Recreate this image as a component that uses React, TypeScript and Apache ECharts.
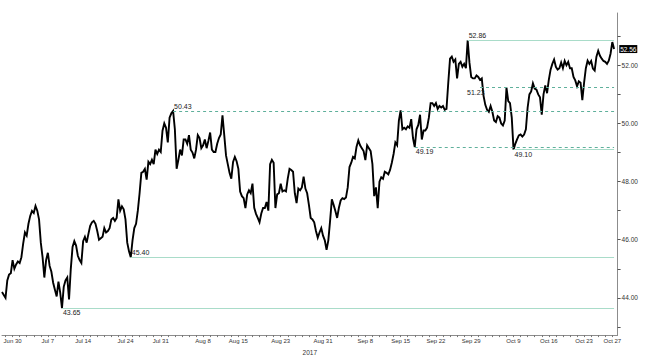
import React, { useEffect, useRef } from "react";
import * as echarts from "echarts";

// ---- data -------------------------------------------------------------
const START_DATE = [2017, 5, 29]; // Jun 29 2017 (month is 0-based)
const END_DATE = [2017, 9, 27]; // Oct 27 2017
const SAMPLES_PER_DAY = 4;

// intraday price readings, 4 per trading day (Jun 29 .. Oct 27)
const priceByDay: number[][] = [
  [44.2, 44.1, 44.0, 44.6],
  [44.8, 44.85, 45.3, 45.0],
  [45.15, 45.25, 45.2, 45.4],
  [45.87, 46.25, 46.14, 46.55],
  [46.82, 46.99, 46.92, 47.16],
  [47.0, 46.7, 45.9, 45.4],
  [44.7, 45.3, 45.55, 45.1],
  [44.9, 44.52, 44.28, 44.05],
  [44.56, 44.18, 43.65, 44.38],
  [44.6, 44.7, 43.95, 45.0],
  [45.75, 45.95, 45.8, 45.45],
  [45.3, 45.2, 45.95, 46.1],
  [45.9, 46.2, 46.48, 46.6],
  [46.65, 46.55, 46.3, 46.0],
  [46.05, 46.1, 46.4, 46.25],
  [46.3, 46.4, 46.7, 46.75],
  [46.65, 46.75, 47.39, 47.0],
  [47.15, 47.05, 46.7, 45.9],
  [45.6, 45.4, 45.98, 46.4],
  [46.55, 47.0, 47.6, 48.3],
  [48.34, 48.44, 48.07, 48.68],
  [48.6, 48.75, 48.6, 49.1],
  [48.95, 49.1, 49.02, 49.75],
  [50.0, 49.85, 49.35, 50.2],
  [50.35, 50.43, 49.8, 48.44],
  [48.75, 49.1, 48.9, 49.45],
  [49.45, 49.3, 49.6, 49.1],
  [49.0, 48.8, 49.1, 49.6],
  [49.5, 49.15, 49.25, 49.45],
  [49.15, 49.4, 49.69, 49.1],
  [49.02, 49.02, 49.3, 49.5],
  [49.62, 50.28, 49.6, 48.9],
  [48.6, 48.3, 48.1, 48.68],
  [48.85, 48.7, 48.44, 47.66],
  [47.5, 47.43, 47.09, 47.56],
  [47.7, 47.6, 47.93, 47.1],
  [46.89, 46.75, 46.6, 46.9],
  [47.09, 47.09, 47.3, 47.0],
  [48.6, 48.75, 48.65, 47.09],
  [47.56, 47.6, 47.93, 47.66],
  [47.7, 47.66, 48.1, 48.44],
  [48.4, 48.34, 47.6, 47.26],
  [47.76, 47.7, 47.8, 48.17],
  [47.76, 47.6, 47.2, 46.75],
  [46.7, 46.6, 46.3, 46.07],
  [46.25, 46.4, 46.14, 45.98],
  [45.65, 45.98, 46.65, 47.39],
  [47.2, 46.99, 46.75, 47.1],
  [47.35, 47.43, 47.4, 47.45],
  [47.8, 48.5, 48.65, 48.85],
  [48.8, 49.2, 49.42, 49.25],
  [49.15, 49.05, 48.74, 49.25],
  [49.15, 49.05, 48.6, 47.5],
  [47.8, 47.09, 48.0, 48.15],
  [48.1, 48.34, 48.3, 48.25],
  [48.4, 48.65, 48.95, 49.35],
  [49.25, 50.1, 50.45, 49.8],
  [49.85, 49.8, 49.9, 49.85],
  [50.15, 49.5, 49.19, 49.8],
  [49.95, 50.3, 49.45, 49.76],
  [49.76, 49.86, 50.2, 50.7],
  [50.7, 50.6, 50.7, 50.5],
  [50.6, 50.55, 50.6, 50.47],
  [50.5, 51.4, 52.23, 52.3],
  [52.12, 52.2, 51.55, 52.05],
  [52.12, 51.95, 52.05, 51.9],
  [52.86, 52.1, 51.6, 51.55],
  [51.55, 51.65, 51.6, 51.5],
  [51.55, 50.95, 50.64, 50.47],
  [50.4, 50.6, 50.4, 50.1],
  [50.05, 50.25, 50.2, 50.0],
  [49.93, 50.1, 51.23, 50.77],
  [50.7, 50.2, 49.1, 49.3],
  [49.45, 49.59, 49.62, 49.55],
  [49.62, 49.8, 50.55, 51.0],
  [51.1, 51.38, 51.2, 51.16],
  [51.0, 50.9, 50.3, 51.0],
  [51.31, 51.04, 51.5, 51.85],
  [52.05, 52.2, 51.95, 51.85],
  [51.9, 52.1, 51.9, 52.15],
  [52.0, 52.12, 51.9, 51.9],
  [51.6, 51.48, 51.28, 51.45],
  [51.4, 50.8, 51.4, 51.9],
  [52.16, 52.05, 52.15, 51.89],
  [51.82, 52.3, 52.5, 52.33],
  [52.23, 52.15, 52.12, 52.05],
  [52.16, 52.4, 52.8, 52.56],
];

const tickLabelDays = [
  "Jun 30", "Jul 7", "Jul 14", "Jul 24", "Jul 31", "Aug 8", "Aug 15", "Aug 23",
  "Aug 31", "Sep 8", "Sep 15", "Sep 22", "Sep 29", "Oct 9", "Oct 16", "Oct 23", "Oct 27",
];
const yearLabel = "2017";

const yTickValues = [43, 44, 45, 46, 47, 48, 49, 50, 51, 52, 53];
const yLabelValues = [44, 46, 48, 50, 52];

const levelValues = [52.86, 51.23, 50.43, 49.19, 49.1, 45.4, 43.65];
const levelStartIndex = [264, 271, 97, 234, 290, 73, 34];
const levelDashed = [false, true, true, true, false, false, false];
const levelLabelBelow = [false, true, false, true, true, false, true];
const levelLabelShift = [0, -14, 0, 0, 0, 0, 0];

const lastPrice = 52.56;

// ---- helpers ----------------------------------------------------------
const MONTHS = ["Jan", "Feb", "Mar", "Apr", "May", "Jun", "Jul", "Aug", "Sep", "Oct", "Nov", "Dec"];

function tradingDays(): string[] {
  const out: string[] = [];
  const d = new Date(Date.UTC(START_DATE[0], START_DATE[1], START_DATE[2]));
  const end = new Date(Date.UTC(END_DATE[0], END_DATE[1], END_DATE[2]));
  while (d.getTime() <= end.getTime()) {
    const wd = d.getUTCDay();
    if (wd !== 0 && wd !== 6) out.push(`${MONTHS[d.getUTCMonth()]} ${d.getUTCDate()}`);
    d.setUTCDate(d.getUTCDate() + 1);
  }
  return out;
}

const FONT = "'Liberation Sans', Arial, sans-serif";

export default function App() {
  const ref = useRef<HTMLDivElement>(null);

  useEffect(() => {
    if (!ref.current) return;
    const chart = echarts.init(ref.current, undefined, { renderer: "svg" });

    const days = tradingDays();
    const categories: string[] = [];
    days.forEach((day) => {
      for (let s = 0; s < SAMPLES_PER_DAY; s++) categories.push(`${day}#${s}`);
    });
    categories.push("#pad0", "#pad1");
    const values = priceByDay.flat();
    const lastIdx = values.length - 1;

    const markLineData = levelValues.map((v, i) => {
      const dashed = levelDashed[i];
      const below = levelLabelBelow[i];
      return [
        {
          coord: [levelStartIndex[i], v],
          lineStyle: {
            color: dashed ? "#5fb09b" : "#a9dcc9",
            type: dashed ? [3, 3] : "solid",
            width: 1,
          },
          label: {
            show: true,
            position: below ? "insideStartBottom" : "insideStartTop",
            formatter: v.toFixed(2),
            distance: 1,
            offset: [levelLabelShift[i], 0],
            fontSize: 7,
            fontFamily: FONT,
            color: "#222",
          },
        },
        { coord: [lastIdx, v] },
      ];
    });

    chart.setOption({
      animation: false,
      backgroundColor: "#ffffff",
      grid: { left: 2, right: 33.4, top: 13, bottom: 20, containLabel: false },
      xAxis: {
        type: "category",
        data: categories,
        boundaryGap: false,
        axisLine: { show: true, lineStyle: { color: "#8c8c8c", width: 1 } },
        axisTick: {
          show: true,
          interval: (i: number) => i % SAMPLES_PER_DAY === 2 && i < values.length,
          length: 2,
          lineStyle: { color: "#777" },
        },
        axisLabel: {
          interval: (i: number, v: string) =>
            i % SAMPLES_PER_DAY === 2 && tickLabelDays.includes(v.split("#")[0]),
          formatter: (v: string) => v.split("#")[0],
          fontSize: 6,
          fontFamily: FONT,
          color: "#333",
          margin: 3,
        },
        splitLine: { show: false },
        name: yearLabel,
        nameLocation: "middle",
        nameGap: 11,
        nameTextStyle: { fontSize: 6.5, fontFamily: FONT, color: "#333" },
      },
      yAxis: {
        type: "value",
        position: "right",
        min: 42.72,
        max: 53.8,
        splitLine: { show: false },
        axisLine: { show: true, lineStyle: { color: "#8c8c8c", width: 1 } },
        axisTick: {
          show: true,
          customValues: yTickValues,
          length: 3,
          lineStyle: { color: "#555" },
        },
        axisLabel: {
          show: true,
          customValues: yLabelValues,
          formatter: (v: number) => v.toFixed(2),
          fontSize: 6.5,
          fontFamily: FONT,
          color: "#333",
          margin: 4,
        },
      },
      series: [
        {
          type: "line",
          data: values,
          symbol: "none",
          showSymbol: false,
          lineStyle: { color: "#000", width: 1.9, join: "miter" },
          clip: false,
          markLine: {
            silent: true,
            animation: false,
            symbol: ["none", "none"],
            data: markLineData,
          },
          markPoint: {
            silent: true,
            animation: false,
            symbol: "rect",
            symbolSize: [18, 8],
            symbolOffset: [14.2, 0],
            itemStyle: { color: "#000" },
            label: {
              show: true,
              position: "inside",
              color: "#fff",
              fontSize: 6.5,
              fontFamily: FONT,
              formatter: () => lastPrice.toFixed(2),
            },
            data: [{ coord: [lastIdx, lastPrice], value: lastPrice }],
          },
        },
      ],
    });

    return () => chart.dispose();
  }, []);

  return (
    <div
      ref={ref}
      style={{ position: "fixed", left: 0, top: 0, width: 651, height: 361, background: "#fff" }}
    />
  );
}
